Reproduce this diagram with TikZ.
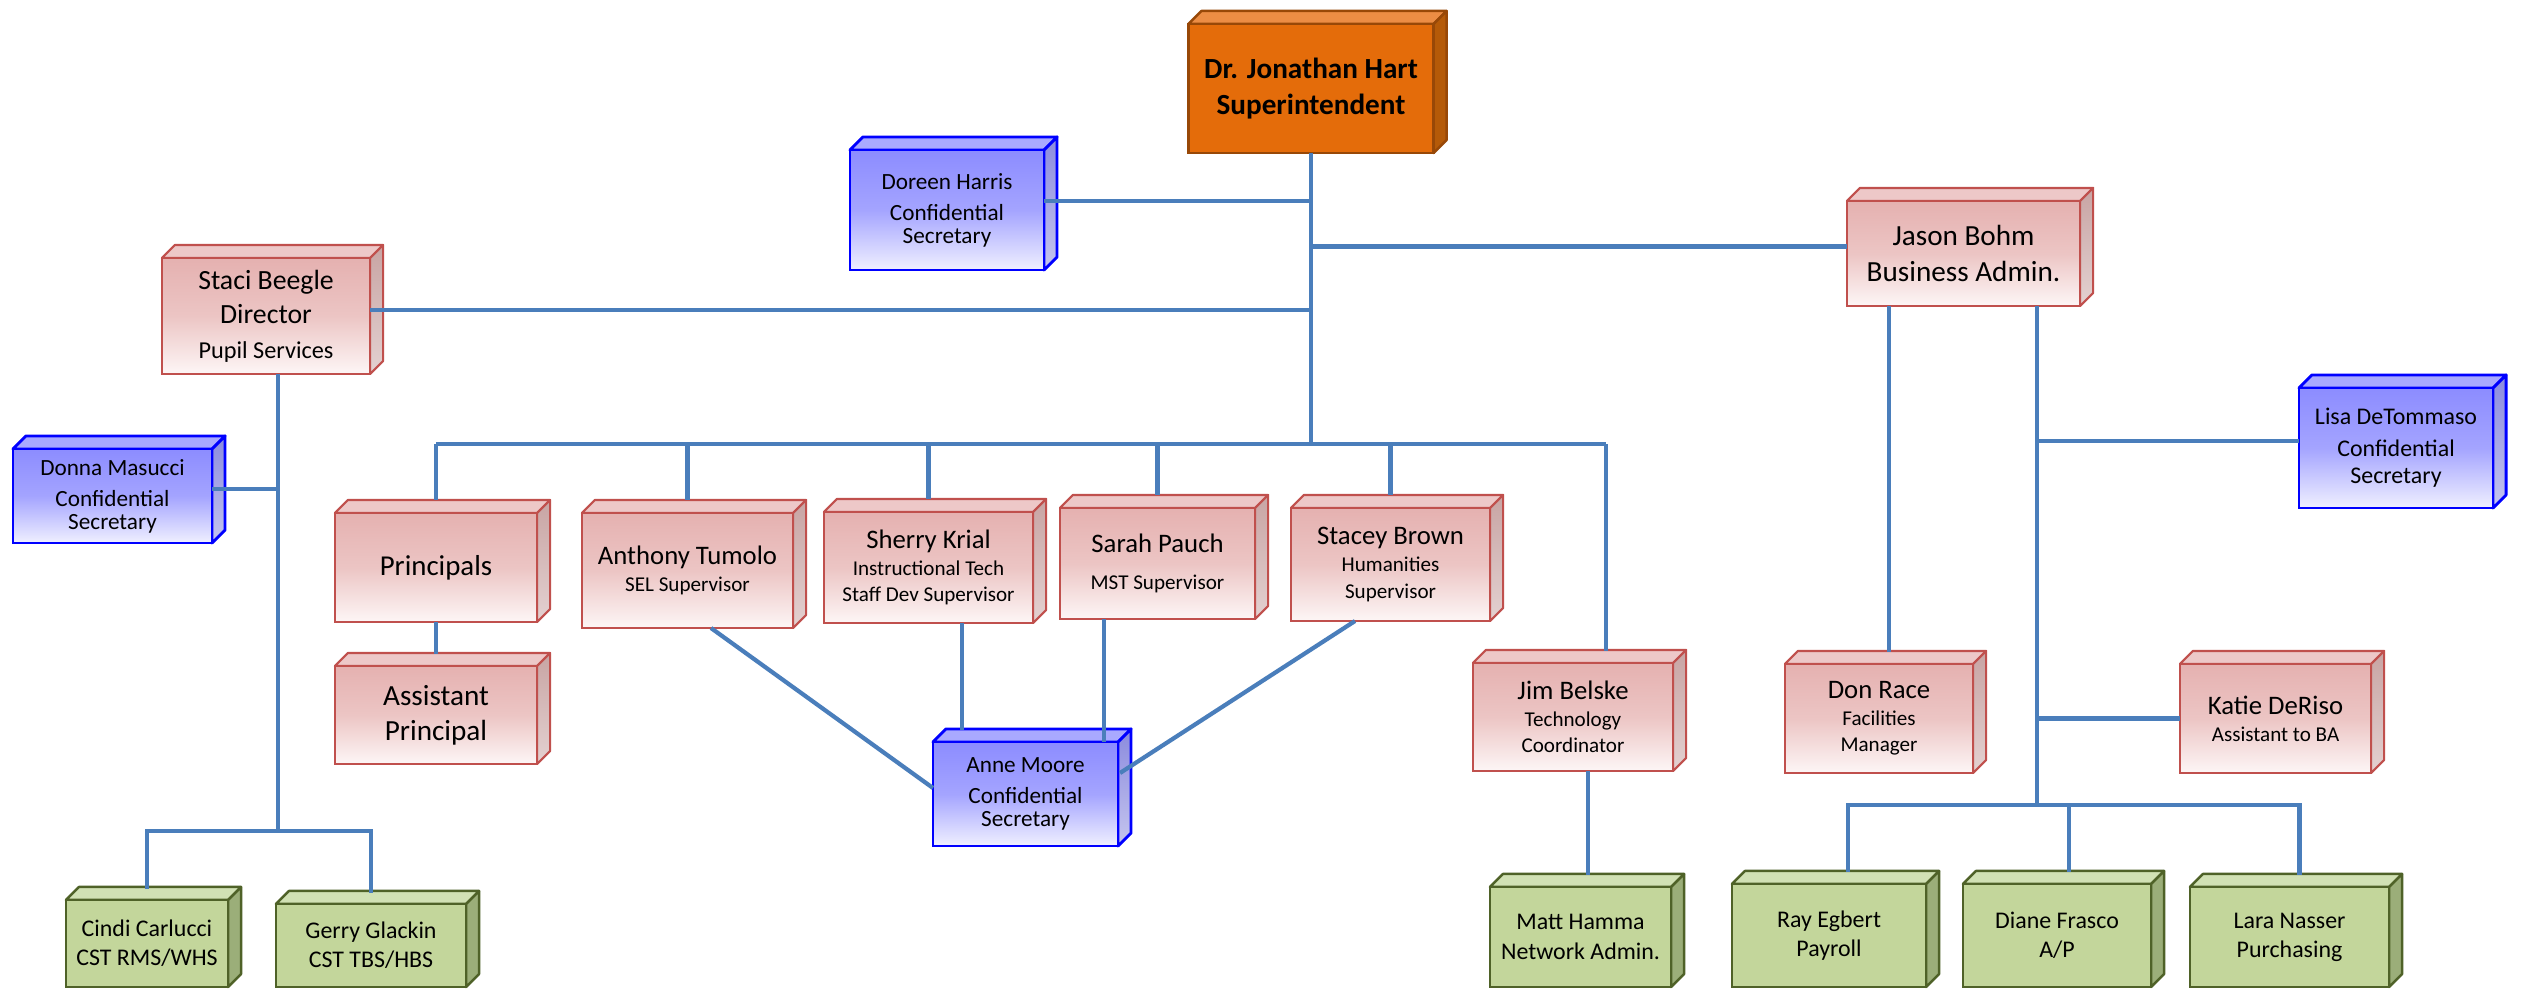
\documentclass[tikz,border=0pt]{standalone}
\usepackage{fontspec}
\setmainfont{Carlito}
\definecolor{rededge}{HTML}{C0504D}
\definecolor{redfront}{HTML}{E5B1B0}
\definecolor{redmid}{HTML}{ECC5C4}
\definecolor{redfade}{HTML}{FDF6F6}
\definecolor{redlid}{HTML}{EDC8C8}
\definecolor{redside}{HTML}{C8A4A3}
\definecolor{blueedge}{HTML}{0000FF}
\definecolor{bluefront}{HTML}{8C8CFF}
\definecolor{bluemid}{HTML}{A4A4FF}
\definecolor{bluefade}{HTML}{F0F0FF}
\definecolor{bluelid}{HTML}{A9A9FF}
\definecolor{blueside}{HTML}{8B8BDE}
\definecolor{greenedge}{HTML}{4F6228}
\definecolor{greenfill}{HTML}{C3D69B}
\definecolor{greenlid}{HTML}{D1E1B4}
\definecolor{greenside}{HTML}{9BAE79}
\definecolor{orangeedge}{HTML}{984807}
\definecolor{orangefill}{HTML}{E46C0A}
\definecolor{orangelid}{HTML}{EC8D44}
\definecolor{orangeside}{HTML}{B55A08}
\definecolor{linkblue}{HTML}{4A7EBB}
\newcommand{\fsz}[2]{\fontsize{#1}{#2}\selectfont}
\newcommand{\who}[1]{{\fsz{7.6}{7.6}#1}}
% lid and side of a box, drawn behind the front face
\newcommand{\cubefaces}[3]{%
  \draw[line join=round,#3,#1] (\tikzlastnode.north west) -- ++(0.13cm,0.13cm)
    -- ([shift={(0.13cm,0.13cm)}]\tikzlastnode.north east) -- (\tikzlastnode.north east) -- cycle;
  \draw[line join=round,#3,#2] (\tikzlastnode.north east) -- ++(0.13cm,0.13cm)
    -- ([shift={(0.13cm,0.13cm)}]\tikzlastnode.south east) -- (\tikzlastnode.south east) -- cycle;}
\tikzset{
  orgbox/.style={draw, outer sep=0pt, inner sep=1pt, align=center, text=black},
  redbox/.style={orgbox, draw=rededge, line width=0.6pt,
    top color=redfront, bottom color=redfade, middle color=redmid, font=\fsz{6}{7.6},
    append after command={\pgfextra{\cubefaces{fill=redlid}{top color=redside,bottom color=redside!50!white}{draw=rededge,line width=0.6pt}}}},
  bluebox/.style={orgbox, draw=blueedge, line width=0.8pt,
    top color=bluefront, bottom color=bluefade, middle color=bluemid, font=\fsz{6.6}{6.4},
    append after command={\pgfextra{\cubefaces{fill=bluelid}{top color=blueside,bottom color=blueside!50!white}{draw=blueedge,line width=0.8pt}}}},
  greenbox/.style={orgbox, draw=greenedge, line width=0.7pt, fill=greenfill, font=\fsz{6.8}{8.3},
    append after command={\pgfextra{\cubefaces{fill=greenlid}{fill=greenside}{draw=greenedge,line width=0.7pt}}}},
  orangebox/.style={orgbox, draw=orangeedge, line width=0.7pt, fill=orangefill, font=\fsz{8.3}{10.3}\bfseries,
    append after command={\pgfextra{\cubefaces{fill=orangelid}{fill=orangeside}{draw=orangeedge,line width=0.7pt}}}},
  link/.style={draw=linkblue, line width=1.2pt}
}
\begin{document}
\begin{tikzpicture}[x=0.01cm,y=-0.01cm]
\path[fill=white, use as bounding box] (0,0) rectangle (2521,989);
% boxes
\node[orangebox, minimum width=2.45cm, minimum height=1.29cm] (hart) at (1311,88.5) {Dr. Jonathan Hart\\Superintendent};
\node[bluebox, minimum width=1.94cm, minimum height=1.2cm] (doreen) at (947,210) {Doreen Harris\\[2.5pt]Confidential\\Secretary};
\node[redbox, minimum width=2.08cm, minimum height=1.16cm, font=\fsz{7.9}{9.8}] (staci) at (266,316) {Staci Beegle\\Director\\{\fsz{6.9}{9.8}Pupil Services}};
\node[bluebox, minimum width=1.99cm, minimum height=0.94cm] (donna) at (112.5,496) {Donna Masucci\\[2.5pt]Confidential\\Secretary};
\node[redbox, minimum width=2.33cm, minimum height=1.05cm, font=\fsz{8.3}{10.3}] (jason) at (1963.5,253.5) {Jason Bohm\\Business Admin.};
\node[bluebox, minimum width=1.94cm, minimum height=1.2cm, font=\fsz{6.8}{7.6}] (lisa) at (2396,448) {Lisa DeTommaso\\[1.5pt]Confidential\\Secretary};
\node[redbox, minimum width=2.02cm, minimum height=1.09cm, font=\fsz{8.2}{9.8}] (principals) at (436,567.5) {Principals};
\node[redbox, minimum width=2.02cm, minimum height=0.98cm, font=\fsz{8.3}{10}] (asstprin) at (436,715) {Assistant\\Principal};
\node[redbox, minimum width=2.11cm, minimum height=1.15cm] (anthony) at (687.5,570.5) {\who{Anthony Tumolo}\\SEL Supervisor};
\node[redbox, minimum width=2.09cm, minimum height=1.11cm] (sherry) at (928.5,567.5) {\who{Sherry Krial}\\Instructional Tech\\Staff Dev Supervisor};
\node[redbox, minimum width=1.95cm, minimum height=1.11cm] (sarah) at (1157.5,563.5) {\who{Sarah Pauch}\\[3pt]MST Supervisor};
\node[redbox, minimum width=1.99cm, minimum height=1.13cm] (stacey) at (1390.5,564.5) {\who{Stacey Brown}\\Humanities\\Supervisor};
\node[redbox, minimum width=2cm, minimum height=1.08cm] (jim) at (1573,717) {\who{Jim Belske}\\Technology\\Coordinator};
\node[bluebox, minimum width=1.85cm, minimum height=1.04cm] (anne) at (1025.5,794) {Anne Moore\\[2.5pt]Confidential\\Secretary};
\node[redbox, minimum width=1.88cm, minimum height=1.09cm] (don) at (1879,718.5) {\who{Don Race}\\Facilities\\Manager};
\node[redbox, minimum width=1.91cm, minimum height=1.09cm] (katie) at (2275.5,718.5) {\who{Katie DeRiso}\\Assistant to BA};
\node[greenbox, minimum width=1.62cm, minimum height=0.87cm] (cindi) at (147,943.5) {Cindi Carlucci\\CST RMS/WHS};
\node[greenbox, minimum width=1.9cm, minimum height=0.83cm] (gerry) at (371,945.5) {Gerry Glackin\\CST TBS/HBS};
\node[greenbox, minimum width=1.81cm, minimum height=1cm] (matt) at (1580.5,937) {Matt Hamma\\Network Admin.};
\node[greenbox, minimum width=1.94cm, minimum height=1.03cm] (ray) at (1829,935.5) {Ray Egbert\\Payroll};
\node[greenbox, minimum width=1.88cm, minimum height=1.03cm] (diane) at (2057,935.5) {Diane Frasco\\A/P};
\node[greenbox, minimum width=1.99cm, minimum height=1cm] (lara) at (2289.5,937) {Lara Nasser\\Purchasing};
% junctions
\coordinate (bus) at (1311,444);
\coordinate (cstbus) at (278,831);
\coordinate (babus) at (2037,805);
\coordinate (annelid) at ([yshift=0.12cm]anne.north);
% superintendent
\draw[link] (hart.south) -- (hart.south |- bus);
\draw[link] ([yshift=0.09cm]doreen.east) -- ([yshift=0.09cm]doreen.east -| hart.south);
\draw[link] ([yshift=0.07cm]jason.west) -- ([yshift=0.07cm]jason.west -| hart.south);
\draw[link] ([yshift=0.06cm]staci.east) -- ([yshift=0.06cm]staci.east -| hart.south);
\draw[link] (principals.north |- bus) -- ([xshift=0.33cm]jim.north |- bus);
\foreach \n in {principals,anthony,sherry,sarah,stacey}
  \draw[link] ([yshift=0.13cm]\n.north) -- (\n.north |- bus);
\draw[link] ([shift={(0.33cm,0.12cm)}]jim.north) -- ([xshift=0.33cm]jim.north |- bus);
\draw[link] (principals.south) -- ([yshift=0.12cm]asstprin.north);
% secretary of the supervisors
\draw[link] ([xshift=0.235cm]anthony.south) -- ([yshift=0.06cm]anne.west);
\draw[link] ([xshift=0.335cm]sherry.south) -- ([xshift=0.335cm]sherry.south |- annelid);
\draw[link] ([xshift=-0.14cm]anne.north east) -- ([xshift=-0.14cm]anne.north east |- sarah.south);
\draw[link] ([xshift=-0.355cm]stacey.south) -- ([shift={(0.02cm,0.21cm)}]anne.east);
% pupil services
\draw[link] ([xshift=0.12cm]staci.south) -- ([xshift=0.12cm]staci.south |- cstbus);
\draw[link] ([yshift=0.07cm]donna.east) -- ([yshift=0.07cm]donna.east -| cstbus);
\draw[link] ([yshift=0.11cm]cindi.north) |- (cstbus) -| ([yshift=0.11cm]gerry.north);
\draw[link] ([shift={(0.075cm,0.12cm)}]matt.north) -- ([xshift=0.075cm]matt.north |- jim.south);
% business office
\draw[link] ([shift={(0.1cm,0.12cm)}]don.north) -- ([xshift=0.1cm]don.north |- jason.south);
\draw[link] (jason.south -| babus) -- (babus);
\draw[link] ([yshift=0.07cm]lisa.west) -- ([yshift=0.07cm]lisa.west -| babus);
\draw[link] (katie.west) -- (katie.west -| babus);
\draw[link] ([shift={(0.19cm,0.12cm)}]ray.north) |- (babus) -| ([shift={(0.1cm,0.12cm)}]lara.north);
\draw[link] ([shift={(0.12cm,0.12cm)}]diane.north) -- ([xshift=0.12cm]diane.north |- babus);
\end{tikzpicture}
\end{document}
